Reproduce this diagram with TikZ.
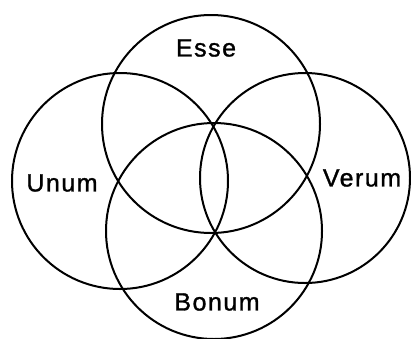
\documentclass[tikz,border=0pt]{standalone}
\usepackage{fontspec}
\setmainfont{Liberation Sans}[LetterSpace=6,FakeBold=1.2]
\usepackage{tikz}

\begin{document}
\begin{tikzpicture}[x=1pt,y=-1pt,
  ring/.style={line width=2pt},
  word/.style={font=\fontsize{25}{28}\selectfont}]
\useasboundingbox (0,0) rectangle (411,338);
\foreach \cx/\cy/\r in {211/124/109,120/181/108,305/178/105,214/231/108}{
  \draw[ring] (\cx,\cy) circle[radius=\r pt];}
\node[word] (esse) at (206,48) {Esse};
\node[word] (unum) at (62,183) {Unum};
\node[word] (verum) at (362,178) {Verum};
\node[word] (bonum) at (217,302) {Bonum};
\end{tikzpicture}
\end{document}
